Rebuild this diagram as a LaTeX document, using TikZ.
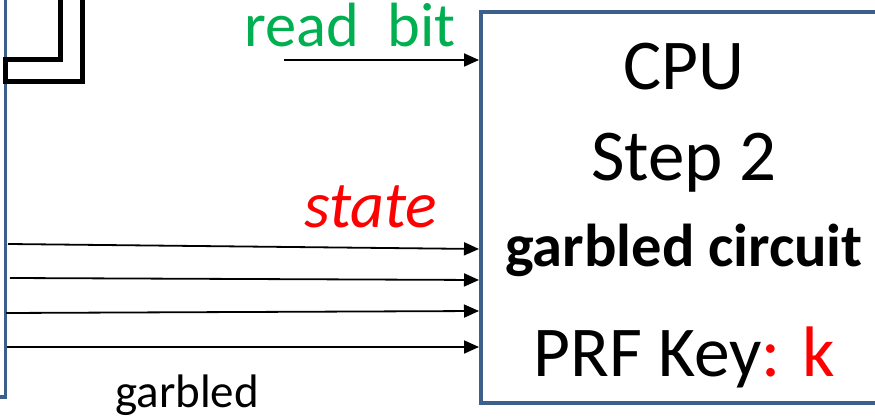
\documentclass[tikz,border=0pt]{standalone}
\usepackage{fontspec}
\setmainfont{Carlito}
\usetikzlibrary{arrows.meta}
\definecolor{frameblue}{RGB}{60,96,140}
\definecolor{bitgreen}{RGB}{0,176,80}
\definecolor{keyred}{RGB}{255,0,0}
\tikzset{
  wire/.style={line width=1.8pt, -{Triangle[length=15pt,width=13pt]}},
  outline/.style={draw=frameblue, line width=3.8pt},
  bracket/.style={draw=black, line width=5pt, line join=miter},
  lbl/.style={inner sep=0pt, anchor=base},
}
\begin{document}
\begin{tikzpicture}[x=1pt,y=-1pt]
\useasboundingbox (0,0) rectangle (875,419);
\clip (0,0) rectangle (875,419);

% memory block on the left
\draw[outline] (-5,397) -- (5.5,397) -- (5.5,-10);
\draw[bracket] (60.5,-10) -- (60.5,59.5) -- (5.5,59.5) -- (5.5,81.5) -- (82.5,81.5) -- (82.5,-10);

% CPU box
\draw[outline] (900,12) -- (481,12) -- (481,403) -- (900,403);
\coordinate (cpuW) at (479,0);

% box contents
\node[lbl, font=\fontsize{71.5}{84}\selectfont] (cpu) at (684,90) {CPU};
\node[lbl, font=\fontsize{73}{84}\selectfont] (step) at (684,181) {Step 2};
\node[lbl, font=\bfseries\fontsize{60.5}{70}\selectfont] (gc) at (684,267) {garbled circuit};
\node[lbl, font=\fontsize{71.5}{84}\selectfont] (prf) at (684,377) {PRF Key\textcolor{keyred}{: k}};

% labels
\node[lbl, anchor=base west, text=bitgreen, font=\fontsize{62.5}{72}\selectfont] (rb) at (244,46.7) {read\ \ bit};
\node[lbl, anchor=base west, text=keyred, font=\itshape\fontsize{66}{76}\selectfont] (st) at (304,228) {state};
\node[lbl, anchor=base west, font=\fontsize{47}{56}\selectfont] (gb) at (115,407) {garbled};

% input wires
\coordinate (r0) at (284,60);
\coordinate (s1) at (8,244);
\coordinate (s2) at (10,278);
\coordinate (s3) at (6,313);
\coordinate (s4) at (7,347);
\draw[wire] (r0) -- (cpuW |- r0);
\draw[wire] (s1) -- ([yshift=-5pt]cpuW |- s1);
\draw[wire] (s2) -- ([yshift=-2pt]cpuW |- s2);
\draw[wire] (s3) -- ([yshift=2pt]cpuW |- s3);
\draw[wire] (s4) -- (cpuW |- s4);
\end{tikzpicture}
\end{document}
